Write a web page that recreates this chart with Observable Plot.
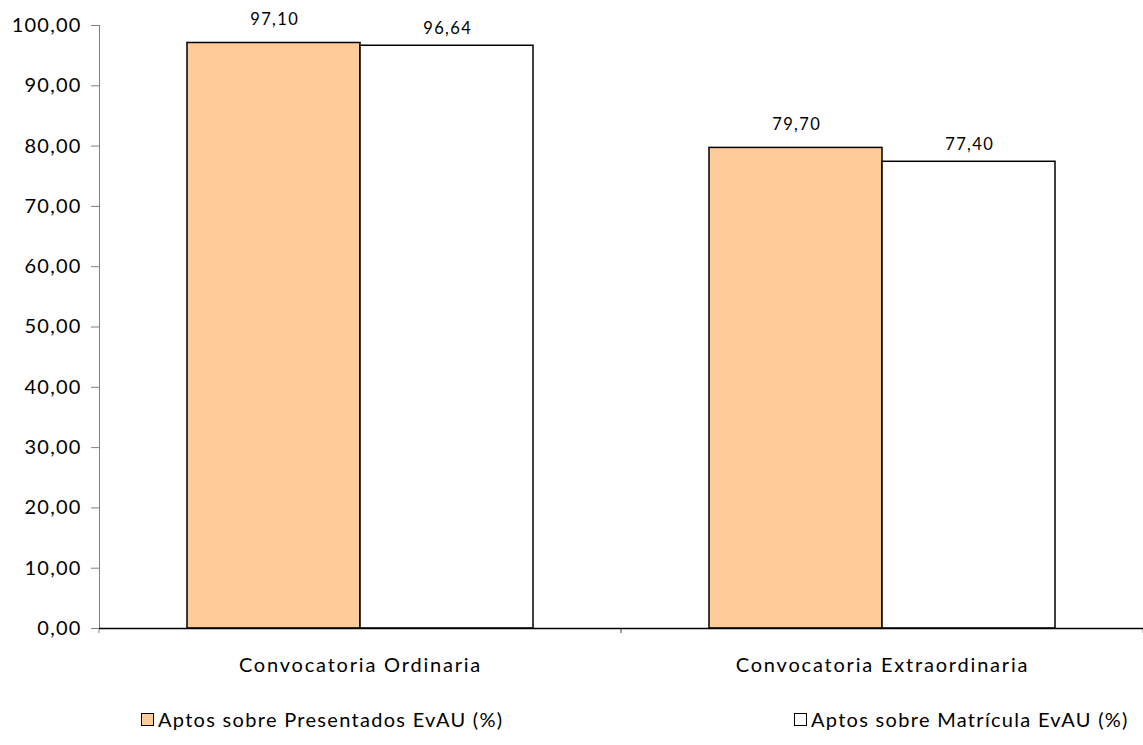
<!DOCTYPE html>
<html>
<head>
<meta charset="utf-8">
<script src="https://cdn.jsdelivr.net/npm/d3@7"></script>
<script src="https://cdn.jsdelivr.net/npm/@observablehq/plot@0.6"></script>
<style>
  html, body { margin: 0; padding: 0; background: #fff; }
  body { font-family: Lato, "Open Sans", sans-serif; width: 1143px; height: 745px; overflow: hidden; }
  #legend { position: relative; height: 55px; font-size: 20px; color: #000; letter-spacing: 1.3px; }
  .item { position: absolute; top: 17px; display: flex; align-items: center; white-space: nowrap; }
  .sw { width: 11px; height: 11px; border: 1px solid #000; margin-right: 4px; box-sizing: content-box; }
  g[aria-label="y-axis tick label"] text { letter-spacing: 1.2px; }
  g[aria-label="fx-axis tick label"] text { letter-spacing: 1.8px; }
  g[aria-label="text"] text { letter-spacing: 1.4px; }
</style>
</head>
<body>
<div id="chart"></div>
<div id="legend"></div>
<script>
const categories = ["Convocatoria Ordinaria", "Convocatoria Extraordinaria"];
const seriesNames = ["Aptos sobre Presentados EvAU (%)", "Aptos sobre Matrícula EvAU (%)"];
const presentados = [97.10, 79.70];
const matricula = [96.64, 77.40];
const yTicks = [0, 10, 20, 30, 40, 50, 60, 70, 80, 90, 100];
const seriesColors = ["#FFCC99", "#FFFFFF"];

const fmt = d => d.toFixed(2).replace(".", ",");
const data = categories.flatMap((c, i) => [
  {cat: c, serie: seriesNames[0], value: presentados[i]},
  {cat: c, serie: seriesNames[1], value: matricula[i]}
]);

const boundaryTicks = (index, scales, values, dimensions, context) => {
  const g = d3.create("svg:g");
  const y0 = scales.y(0);
  const xl = dimensions.marginLeft;
  const xr = dimensions.width - dimensions.marginRight;
  for (const x of [xl, xr]) {
    g.append("line").attr("x1", x).attr("x2", x).attr("y1", y0).attr("y2", y0 + 5)
      .attr("stroke", "#808080").attr("stroke-width", 1);
  }
  return g.node();
};

const chart = Plot.plot({
  width: 1143,
  height: 690,
  marginLeft: 99,
  marginRight: 0,
  marginTop: 25,
  marginBottom: 62,
  style: {fontFamily: "Lato, 'Open Sans', sans-serif", color: "#000", background: "#fff"},
  fx: {domain: categories, padding: 0, axis: null},
  x: {domain: seriesNames, paddingInner: 0, paddingOuter: 0.506, axis: null},
  y: {domain: [0, 100], axis: null},
  color: {domain: seriesNames, range: seriesColors},
  marks: [
    Plot.frame({anchor: "left", facetAnchor: "left", stroke: "#808080", strokeWidth: 1}),
    boundaryTicks,
    Plot.axisY({ticks: yTicks, tickSize: 8, tickPadding: 10, tickFormat: fmt, fontSize: 20, stroke: "#808080", fill: "#000", label: null}),
    Plot.axisFx({anchor: "bottom", tickSize: 0, tickPadding: 29, fontSize: 20, label: null, fill: "#000"}),
    Plot.barY(data, {fx: "cat", x: "serie", y: "value", fill: "serie", stroke: "#000", strokeWidth: 1.5}),
    Plot.ruleY([0], {stroke: "#000", strokeWidth: 1.5}),
    Plot.text(data.filter(d => d.serie === seriesNames[0]), {fx: "cat", x: "serie", y: "value", text: d => fmt(d.value), dy: -23.5, dx: 0.7, fontSize: 16.5, fill: "#000"}),
    Plot.text(data.filter(d => d.serie === seriesNames[1]), {fx: "cat", x: "serie", y: "value", text: d => fmt(d.value), dy: -17, dx: 0.7, fontSize: 16.5, fill: "#000"})
  ]
});
document.getElementById("chart").appendChild(chart);

const legend = document.getElementById("legend");
const legendLeft = [141, 794];
seriesNames.forEach((name, i) => {
  const item = document.createElement("div");
  item.className = "item";
  item.style.left = legendLeft[i] + "px";
  const sw = document.createElement("span");
  sw.className = "sw";
  sw.style.background = seriesColors[i];
  const label = document.createElement("span");
  label.textContent = name;
  item.appendChild(sw);
  item.appendChild(label);
  legend.appendChild(item);
});
</script>
</body>
</html>
